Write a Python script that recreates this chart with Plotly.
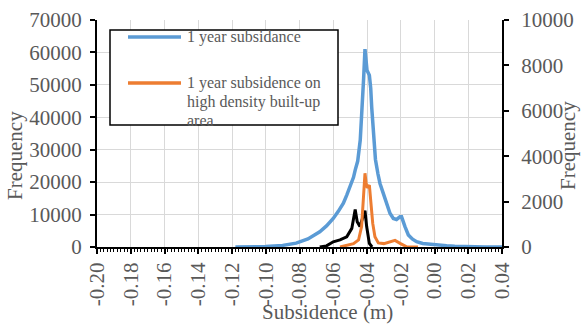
import plotly.graph_objects as go

# ---- data ----
blue_x = [-0.118, -0.110, -0.100, -0.090, -0.082, -0.075, -0.068, -0.064, -0.060, -0.057,
          -0.054, -0.052, -0.050, -0.048, -0.047, -0.0455, -0.044, -0.0432, -0.042, -0.0412,
          -0.0405, -0.040, -0.0386, -0.0378, -0.0372, -0.0362, -0.0350, -0.0335, -0.0323, -0.030,
          -0.0283, -0.0264, -0.0244, -0.0225, -0.0205, -0.0195, -0.0175, -0.0155, -0.013, -0.0106,
          -0.007, -0.0027, 0.002, 0.0072, 0.012, 0.019, 0.030, 0.040]
blue_y = [0, 40, 150, 500, 1200, 2500, 4700, 6500, 8800, 11000,
          13500, 16000, 18600, 21500, 23700, 26500, 33000, 43000, 52000, 61000,
          57000, 54500, 53000, 49000, 43000, 34000, 27000, 22500, 19600, 16000,
          13500, 10400, 8800, 8500, 9300, 9300, 6300, 3700, 2400, 1630,
          1100, 830, 600, 400, 250, 100, 30, 0]

orange_x = [-0.056, -0.052, -0.048, -0.045, -0.0432, -0.0422, -0.0412, -0.0405, -0.0398, -0.0386,
            -0.0378, -0.0366, -0.0353, -0.0333, -0.030, -0.0263, -0.0234, -0.0204, -0.0175, -0.0165,
            -0.0098]
orange_y = [0, 60, 150, 310, 900, 2070, 3250, 2800, 2600, 2730,
            1920, 1040, 450, 180, 150, 230, 290, 160, 30, 10,
            0]

black_x = [-0.068, -0.064, -0.060, -0.056, -0.052, -0.049, -0.047, -0.0458, -0.0442, -0.0426,
           -0.0412, -0.0402, -0.0386, -0.037]
black_y = [0, 50, 230, 310, 450, 820, 1650, 1110, 900, 1330,
           1600, 900, 160, 0]

x_tick_vals = [-0.20, -0.18, -0.16, -0.14, -0.12, -0.10, -0.08, -0.06, -0.04, -0.02, 0.00, 0.02, 0.04]
x_tick_text = ["-0.20", "-0.18", "-0.16", "-0.14", "-0.12", "-0.10", "-0.08", "-0.06",
               "-0.04", "-0.02", "0.00", "0.02", "0.04"]

legend_names = ["1 year subsidance", "1 year subsidence on", "high density built-up", "area"]
x_title = "Subsidence (m)"
y_title = "Frequency"

FONT = "Liberation Serif, Times New Roman, serif"
GREY = "#595959"
GRID = "#d9d9d9"
BLUE = "#5b9bd5"
ORANGE = "#ed7d31"

W, H = 581, 325
L, R, T, B = 97, 79, 20, 78
PW, PH = W - L - R, H - T - B


def px(xp):
    return (xp - L) / PW


def py(yp):
    return (H - B - yp) / PH


fig = go.Figure()
fig.add_trace(go.Scatter(x=blue_x, y=blue_y, mode="lines",
                         line=dict(color=BLUE, width=3.5), yaxis="y", showlegend=False))
fig.add_trace(go.Scatter(x=black_x, y=black_y, mode="lines",
                         line=dict(color="black", width=3), yaxis="y2", showlegend=False))
fig.add_trace(go.Scatter(x=orange_x, y=orange_y, mode="lines",
                         line=dict(color=ORANGE, width=3), yaxis="y2", showlegend=False))

fig.update_layout(
    width=W, height=H,
    margin=dict(l=L, r=R, t=T, b=B, autoexpand=False),
    paper_bgcolor="white", plot_bgcolor="white",
    font=dict(family=FONT, color=GREY, size=21),
    showlegend=False,
    xaxis=dict(range=[-0.20, 0.04], tickmode="array", tickvals=x_tick_vals, ticktext=x_tick_text,
               tickangle=-90, showgrid=True, gridcolor=GRID, gridwidth=1,
               showline=True, linecolor="black", linewidth=2,
               ticks="outside", ticklen=5, tickwidth=1.5, tickcolor="black",
               minor=dict(tickmode="linear", dtick=0.002, tick0=-0.20, ticks="outside", ticklen=3,
                          tickcolor="black", tickwidth=1, showgrid=False),
               tickfont=dict(size=21, color=GREY, family=FONT),
               zeroline=False, automargin=False),
    yaxis=dict(range=[0, 70000], dtick=10000, tickformat="d", showgrid=True, gridcolor=GRID, gridwidth=1,
               showline=True, linecolor="black", linewidth=2,
               ticks="outside", ticklen=5, tickwidth=1.5, tickcolor="black",
               tickfont=dict(size=21, color=GREY, family=FONT),
               zeroline=False, automargin=False, ticklabelstandoff=4),
    yaxis2=dict(range=[0, 10000], dtick=2000, tickformat="d", overlaying="y", side="right",
                showgrid=False, showline=True, linecolor="black", linewidth=2,
                ticks="outside", ticklen=5, tickwidth=1.5, tickcolor="black",
                tickfont=dict(size=21, color=GREY, family=FONT),
                zeroline=False, automargin=False, ticklabelstandoff=8),
)

ann = []
ann.append(dict(text=x_title, xref="paper", yref="paper", x=px(327), y=py(312),
                xanchor="center", yanchor="middle", showarrow=False,
                font=dict(size=21, color=GREY, family=FONT)))
ann.append(dict(text=y_title, xref="paper", yref="paper", x=px(15), y=py(156),
                xanchor="center", yanchor="middle", textangle=-90, showarrow=False,
                font=dict(size=21, color=GREY, family=FONT)))
ann.append(dict(text=y_title, xref="paper", yref="paper", x=px(568), y=py(146),
                xanchor="center", yanchor="middle", textangle=-90, showarrow=False,
                font=dict(size=21, color=GREY, family=FONT)))
for name, yp in zip(legend_names, [37, 83, 102, 120]):
    ann.append(dict(text=name, xref="paper", yref="paper", x=px(185), y=py(yp),
                    xanchor="left", yanchor="middle", showarrow=False,
                    font=dict(size=16, color=GREY, family=FONT)))
fig.update_layout(annotations=ann)

shapes = [
    dict(type="rect", xref="paper", yref="paper", x0=px(110), x1=px(338), y0=py(125), y1=py(30),
         line=dict(color="black", width=1.5), fillcolor="white", layer="above"),
    dict(type="line", xref="paper", yref="paper", x0=px(128), x1=px(181), y0=py(37), y1=py(37),
         line=dict(color=BLUE, width=3.5), layer="above"),
    dict(type="line", xref="paper", yref="paper", x0=px(128), x1=px(181), y0=py(83), y1=py(83),
         line=dict(color=ORANGE, width=3.5), layer="above"),
]
fig.update_layout(shapes=shapes)

fig.write_html("out.html", config={"displayModeBar": False},
               post_script="document.body.style.margin='0';")
